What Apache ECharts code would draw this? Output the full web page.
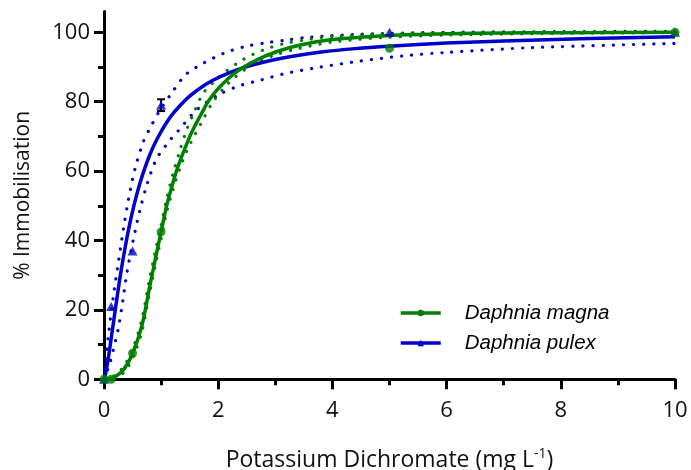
<!DOCTYPE html>
<html>
<head>
<meta charset="utf-8">
<script src="https://cdn.jsdelivr.net/npm/echarts@6/dist/echarts.min.js"></script>
<style>
  html, body { margin: 0; padding: 0; background: #ffffff; }
  #chart { width: 691px; height: 470px; }
</style>
</head>
<body>
<div id="chart"></div>
<script>
// Observed immobilisation (%) at each concentration (mg/L)
const magnaPoints = [[0, 0], [0.125, 0], [0.5, 7.5], [1, 42.5], [5, 95.4], [10, 100]];
const pulexPoints = [[0, 0], [0.125, 21], [0.5, 37], [1, 79], [5, 100], [10, 100]];
// Error bar for pulex at 1 mg/L: [x, low, high]
const pulexErrors = [[1, 77.3, 80.7]];

// Fitted dose-response curves [x, y]
const magnaFit = [[0, 0], [0.1, 0.2], [0.2, 0.8], [0.34, 2.7], [0.49, 7], [0.66, 15.2], [0.8, 26.7],
  [0.92, 36.3], [1.0, 42.5], [1.1, 50.2], [1.21, 56.8], [1.3, 61.5], [1.44, 67.5], [1.56, 72],
  [1.74, 77.6], [1.83, 80.2], [2.03, 84.3], [2.32, 88.6], [2.67, 92], [3.02, 94.4], [3.4, 96.2],
  [4, 97.9], [5, 99.1], [6, 99.6], [7, 99.8], [8, 99.9], [10, 100]];
const magnaUpper = [[0, 0], [0.2, 1.2], [0.35, 3.8], [0.5, 8.6], [0.66, 17], [0.8, 29], [0.92, 38.5],
  [1, 44.3], [1.1, 52.2], [1.21, 59.3], [1.33, 66], [1.45, 72], [1.56, 76.3], [1.74, 82.5],
  [2.0, 86.9], [2.12, 88.6], [2.44, 92.2], [2.79, 94.9], [3.17, 96.8], [3.6, 98], [4, 98.8],
  [5, 99.6], [6, 99.9], [8, 100], [10, 100]];
const magnaLower = [[0, 0], [0.2, 0.4], [0.35, 2], [0.5, 6], [0.66, 13.5], [0.8, 25], [0.92, 34.5],
  [1, 40.5], [1.1, 48.3], [1.21, 54.8], [1.33, 60.8], [1.45, 65.8], [1.59, 70.4], [1.74, 75],
  [1.89, 79.5], [2.1, 84], [2.29, 87], [2.61, 90.8], [2.97, 93.3], [3.4, 95.3], [4, 97.2],
  [5, 98.6], [6, 99.2], [8, 99.7], [10, 99.9]];

const pulexFit = [[0, 0], [0.03, 1.7], [0.06, 4.5], [0.1, 8.8], [0.15, 14.6], [0.2, 20.3],
  [0.25, 26], [0.3, 31.3], [0.37, 38], [0.45, 44.7], [0.53, 50.5], [0.63, 56.6], [0.72, 61.1],
  [0.81, 65], [0.9, 68.3], [1.0, 71.4], [1.1, 74.1], [1.2, 76.4], [1.35, 79.2], [1.5, 81.6],
  [1.7, 84.1], [1.9, 86.1], [2.2, 88.4], [2.5, 90.1], [2.9, 91.8], [3.3, 93.1], [3.8, 94.3],
  [4.4, 95.3], [5, 96], [6, 96.9], [7, 97.5], [8.5, 98.2], [10, 98.7]];
const pulexUpper = [[0, 0], [0.04, 6.5], [0.08, 13], [0.16, 23.5], [0.25, 33.5], [0.34, 43.3],
  [0.425, 51.5], [0.54, 60.5], [0.69, 68.5], [0.8, 72.2], [0.97, 77.3], [1.19, 82.6], [1.43, 87.8],
  [1.74, 91.1], [2.09, 93.9], [2.47, 95.9], [2.85, 97], [3.2, 97.8], [3.6, 98.6], [4.4, 99.4],
  [5, 99.7], [6, 100], [8, 100.2], [10, 100.3]];
const pulexLower = [[0, 0], [0.1, 4.5], [0.2, 11], [0.25, 14.5], [0.31, 20.5], [0.4, 30.5],
  [0.51, 40], [0.63, 48.8], [0.75, 56], [0.92, 63.5], [1.16, 69], [1.3, 71.6], [1.62, 77.6],
  [2.03, 82.2], [2.41, 84.8], [2.76, 86.3], [3.14, 88], [3.72, 89.8], [4.48, 91.7], [5.24, 93.2],
  [6, 94.2], [7.5, 95.6], [10, 96.8]];

// Axis tick values
const yMajorTicks = [0, 20, 40, 60, 80, 100];
const yMinorTicks = [10, 30, 50, 70, 90];

const GREEN = '#008000';
const BLUE = '#0000CC';
const FONT = '"Open Sans", "DejaVu Sans", sans-serif';

const chart = echarts.init(document.getElementById('chart'), null, { renderer: 'canvas' });

function ciLine(data, color) {
  return {
    type: 'line', data: data, showSymbol: false, smooth: 0.3,
    silent: true, z: 2,
    lineStyle: { color: color, width: 3.2, type: [0.1, 10], cap: 'round' }
  };
}

const option = {
  animation: false,
  backgroundColor: '#ffffff',
  grid: { left: 104, right: 16, top: 11.5, bottom: 90.7, containLabel: false, outerBoundsMode: 'none' },
  legend: {
    orient: 'vertical', left: 399, top: 303, itemGap: 10, padding: 0,
    itemWidth: 40, itemHeight: 8,
    data: ['Daphnia magna', 'Daphnia pulex'],
    lineStyle: { width: 3.5 },
    textStyle: { fontFamily: '"Liberation Sans", Arial, sans-serif', fontStyle: 'italic',
      fontSize: 20.5, color: '#000', padding: [0, 0, 0, 19] }
  },
  xAxis: {
    type: 'value', min: 0, max: 10, interval: 2,
    name: '{n|Potassium Dichromate (mg L}{s|-1}{n|)}',
    nameLocation: 'middle', nameGap: 68,
    nameTextStyle: {
      rich: {
        n: { fontFamily: FONT, fontSize: 23, color: '#111' },
        s: { fontFamily: FONT, fontSize: 14, color: '#111', padding: [0, 0, 13, 0] }
      }
    },
    axisLine: { lineStyle: { color: '#000', width: 3 } },
    axisTick: { show: true, length: 10, lineStyle: { color: '#000', width: 3 } },
    minorTick: { show: true, splitNumber: 2, length: 6, lineStyle: { color: '#000', width: 3 } },
    axisLabel: { fontFamily: FONT, fontSize: 22, color: '#111', margin: 20 },
    splitLine: { show: false }
  },
  yAxis: [{
    type: 'value', min: 0, max: 106, interval: 20, position: 'left',
    name: '% Immobilisation', nameLocation: 'middle', nameGap: 70, nameRotate: 90,
    nameTextStyle: { fontFamily: FONT, fontSize: 21, color: '#111' },
    axisLine: { show: true, onZero: false, lineStyle: { color: '#000', width: 3 } },
    axisTick: { show: true, length: 10, customValues: yMajorTicks, lineStyle: { color: '#000', width: 3 } },
    axisLabel: { fontFamily: FONT, fontSize: 22, color: '#111', margin: 14, customValues: yMajorTicks },
    splitLine: { show: false }
  }, {
    type: 'value', min: 0, max: 106, position: 'left',
    axisLine: { show: false },
    axisTick: { show: true, length: 6, customValues: yMinorTicks, lineStyle: { color: '#000', width: 3 } },
    axisLabel: { show: false },
    splitLine: { show: false }
  }],
  series: [
    ciLine(pulexUpper, BLUE),
    ciLine(pulexLower, BLUE),
    ciLine(magnaUpper, GREEN),
    ciLine(magnaLower, GREEN),
    {
      name: 'Daphnia pulex', type: 'line', data: pulexFit, smooth: 0.3,
      showSymbol: false, symbol: 'triangle', z: 3,
      itemStyle: { color: BLUE }, lineStyle: { color: BLUE, width: 3.5 }
    },
    {
      name: 'Daphnia magna', type: 'line', data: magnaFit, smooth: 0.3,
      showSymbol: false, symbol: 'circle', z: 4,
      itemStyle: { color: GREEN }, lineStyle: { color: GREEN, width: 3.5 }
    },
    {
      type: 'custom', data: pulexErrors, z: 5, silent: true,
      encode: { x: 0, y: [1, 2] },
      renderItem: function (params, api) {
        const x = api.value(0);
        const lo = api.coord([x, api.value(1)]);
        const hi = api.coord([x, api.value(2)]);
        const half = 4;
        const st = { stroke: '#000', lineWidth: 2 };
        return {
          type: 'group', children: [
            { type: 'line', shape: { x1: hi[0], y1: hi[1], x2: lo[0], y2: lo[1] }, style: st },
            { type: 'line', shape: { x1: hi[0] - half, y1: hi[1], x2: hi[0] + half, y2: hi[1] }, style: st },
            { type: 'line', shape: { x1: lo[0] - half, y1: lo[1], x2: lo[0] + half, y2: lo[1] }, style: st }
          ]
        };
      }
    },
    {
      type: 'scatter', data: pulexPoints, symbol: 'triangle', symbolSize: [10, 9], z: 6,
      clip: false, itemStyle: { color: BLUE }
    },
    {
      type: 'scatter', data: magnaPoints, symbol: 'circle', symbolSize: 9, z: 7,
      clip: false, itemStyle: { color: GREEN }
    }
  ]
};

chart.setOption(option);
</script>
</body>
</html>
